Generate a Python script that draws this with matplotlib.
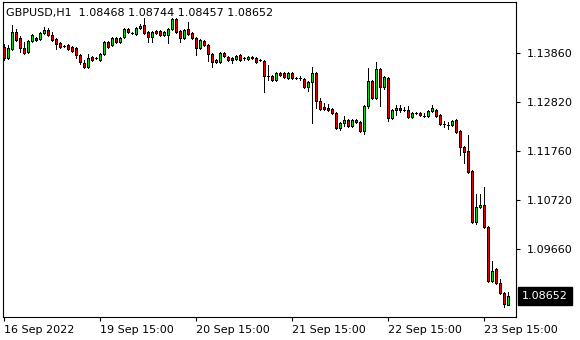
import matplotlib
matplotlib.use("Agg")
import matplotlib.pyplot as plt
from matplotlib.patches import Rectangle
from matplotlib.transforms import offset_copy

# GBPUSD H1, 16 Sep 2022 15:00 .. 23 Sep 2022 21:00
opens = [
    1.13989, 1.13753, 1.13946, 1.14310, 1.14182, 1.13967, 1.13882, 1.14117, 1.14182, 1.14160,
    1.14289, 1.14353, 1.14246, 1.14160, 1.14075, 1.14010, 1.14032, 1.13989, 1.13967, 1.13817,
    1.13646, 1.13560, 1.13775, 1.13753, 1.13710, 1.13839, 1.14096, 1.14032, 1.14182, 1.14096,
    1.14203, 1.14375, 1.14289, 1.14267, 1.14396, 1.14460, 1.14310, 1.14203, 1.14332, 1.14332,
    1.14246, 1.14246, 1.14375, 1.14589, 1.14332, 1.14182, 1.14375, 1.14289, 1.14182, 1.13967,
    1.14117, 1.14032, 1.13839, 1.13667, 1.13667, 1.13860, 1.13775, 1.13753, 1.13732, 1.13817,
    1.13753, 1.13732, 1.13775, 1.13753, 1.13710, 1.13689, 1.13367, 1.13367, 1.13282, 1.13432,
    1.13432, 1.13325, 1.13432, 1.13325, 1.13325, 1.13303, 1.13132, 1.13239, 1.13432, 1.12832,
    1.12703, 1.12682, 1.12660, 1.12574, 1.12253, 1.12360, 1.12424, 1.12296, 1.12424, 1.12382,
    1.12189, 1.12724, 1.13260, 1.12896, 1.13517, 1.13132, 1.13325, 1.12467, 1.12639, 1.12682,
    1.12639, 1.12639, 1.12489, 1.12574, 1.12574, 1.12510, 1.12510, 1.12617, 1.12639, 1.12532,
    1.12339, 1.12317, 1.12317, 1.12424, 1.12189, 1.11846, 1.11760, 1.11332, 1.10239, 1.10560,
    1.10603, 1.10131, 1.08974, 1.09231, 1.08931, 1.08717, 1.08468,
]
highs = [
    1.14053, 1.14032, 1.14460, 1.14375, 1.14225, 1.14096, 1.14139, 1.14267, 1.14203, 1.14310,
    1.14417, 1.14396, 1.14310, 1.14182, 1.14096, 1.14032, 1.14053, 1.14010, 1.13989, 1.13839,
    1.13710, 1.13839, 1.13796, 1.13775, 1.13860, 1.14117, 1.14117, 1.14203, 1.14203, 1.14203,
    1.14396, 1.14396, 1.14310, 1.14417, 1.14482, 1.14610, 1.14332, 1.14332, 1.14353, 1.14353,
    1.14332, 1.14396, 1.14610, 1.14610, 1.14353, 1.14375, 1.14525, 1.14310, 1.14203, 1.14160,
    1.14139, 1.14053, 1.13860, 1.13732, 1.13882, 1.13882, 1.13796, 1.13775, 1.13817, 1.13839,
    1.13775, 1.13796, 1.13796, 1.13775, 1.13732, 1.13710, 1.13603, 1.13389, 1.13453, 1.13453,
    1.13453, 1.13453, 1.13453, 1.13346, 1.13367, 1.13325, 1.13260, 1.13560, 1.13453, 1.12896,
    1.12789, 1.12767, 1.12682, 1.12596, 1.12382, 1.12510, 1.12446, 1.12446, 1.12446, 1.12403,
    1.12746, 1.13539, 1.13282, 1.13667, 1.13539, 1.13367, 1.13346, 1.12660, 1.12746, 1.12746,
    1.12703, 1.12724, 1.12596, 1.12596, 1.12596, 1.12574, 1.12639, 1.12746, 1.12660, 1.12553,
    1.12403, 1.12382, 1.12424, 1.12446, 1.12210, 1.11867, 1.12103, 1.11353, 1.10839, 1.10839,
    1.10989, 1.10153, 1.09403, 1.09253, 1.09017, 1.08738, 1.08744,
]
lows = [
    1.13710, 1.13732, 1.13925, 1.14117, 1.13882, 1.13839, 1.13860, 1.14096, 1.14117, 1.14139,
    1.14267, 1.14225, 1.14117, 1.13946, 1.13967, 1.13989, 1.13925, 1.13882, 1.13753, 1.13625,
    1.13539, 1.13539, 1.13689, 1.13732, 1.13689, 1.13817, 1.13967, 1.14010, 1.14075, 1.14075,
    1.14182, 1.14289, 1.14267, 1.14246, 1.14375, 1.14267, 1.14096, 1.14096, 1.14267, 1.14225,
    1.14225, 1.14075, 1.14353, 1.14289, 1.14096, 1.14160, 1.14246, 1.14160, 1.13817, 1.13946,
    1.14010, 1.13689, 1.13560, 1.13646, 1.13646, 1.13775, 1.13689, 1.13646, 1.13710, 1.13689,
    1.13710, 1.13710, 1.13732, 1.13646, 1.13689, 1.13024, 1.13282, 1.13260, 1.13260, 1.13367,
    1.13325, 1.13303, 1.13303, 1.13303, 1.13282, 1.13110, 1.13046, 1.12360, 1.12682, 1.12639,
    1.12639, 1.12617, 1.12553, 1.12232, 1.12210, 1.12296, 1.12274, 1.12274, 1.12360, 1.12167,
    1.12124, 1.12682, 1.12874, 1.12874, 1.12724, 1.13089, 1.12403, 1.12446, 1.12532, 1.12596,
    1.12617, 1.12467, 1.12467, 1.12553, 1.12510, 1.12489, 1.12489, 1.12596, 1.12489, 1.12317,
    1.12274, 1.12232, 1.12296, 1.12146, 1.11674, 1.11503, 1.11289, 1.10217, 1.10196, 1.10539,
    1.10110, 1.08953, 1.08953, 1.08910, 1.08696, 1.08417, 1.08457,
]
closes = [
    1.13753, 1.13967, 1.14310, 1.14139, 1.13967, 1.13860, 1.14117, 1.14246, 1.14139, 1.14289,
    1.14353, 1.14246, 1.14139, 1.14053, 1.13989, 1.14005, 1.13946, 1.13903, 1.13817, 1.13667,
    1.13560, 1.13753, 1.13710, 1.13748, 1.13839, 1.14096, 1.13989, 1.14182, 1.14096, 1.14182,
    1.14375, 1.14310, 1.14284, 1.14396, 1.14439, 1.14289, 1.14203, 1.14310, 1.14289, 1.14246,
    1.14310, 1.14375, 1.14589, 1.14310, 1.14182, 1.14353, 1.14267, 1.14182, 1.13967, 1.14139,
    1.14032, 1.13839, 1.13667, 1.13710, 1.13860, 1.13796, 1.13710, 1.13710, 1.13796, 1.13710,
    1.13748, 1.13775, 1.13753, 1.13667, 1.13705, 1.13367, 1.13362, 1.13282, 1.13432, 1.13389,
    1.13346, 1.13432, 1.13325, 1.13320, 1.13320, 1.13132, 1.13239, 1.13432, 1.12832, 1.12660,
    1.12660, 1.12639, 1.12574, 1.12253, 1.12360, 1.12424, 1.12296, 1.12424, 1.12382, 1.12189,
    1.12724, 1.13260, 1.12896, 1.13517, 1.13132, 1.13346, 1.12467, 1.12639, 1.12682, 1.12639,
    1.12634, 1.12489, 1.12574, 1.12569, 1.12532, 1.12505, 1.12617, 1.12682, 1.12510, 1.12339,
    1.12334, 1.12312, 1.12403, 1.12167, 1.11846, 1.11739, 1.11310, 1.10239, 1.10560, 1.10603,
    1.10131, 1.08974, 1.09189, 1.08931, 1.08717, 1.08481, 1.08652,
]

price_ticks = [1.13860, 1.12820, 1.11760, 1.10720, 1.09660]
time_tick_bars = [0, 24, 48, 72, 96, 120]
time_tick_labels = ["16 Sep 2022", "19 Sep 15:00", "20 Sep 15:00",
                    "21 Sep 15:00", "22 Sep 15:00", "23 Sep 15:00"]
symbol = "GBPUSD,H1"

W, H = 580, 340
fig = plt.figure(figsize=(W / 100, H / 100), dpi=100)
fig.patch.set_facecolor("white")
ax = fig.add_axes([3 / W, 1 - 317 / H, (516 - 3) / W, (317 - 2) / H])
ax.set_facecolor("white")

bull = "#00e000"
bear = "#e00000"
lw = 0.72  # one pixel
for i in range(len(opens)):
    o, h, l, c = opens[i], highs[i], lows[i], closes[i]
    ax.vlines(i, l, h, color="black", linewidth=lw, antialiased=False, zorder=2)
    if abs(c - o) < 0.00008:
        ax.hlines((o + c) / 2, i - 0.3, i + 0.3, color="black",
                  linewidth=lw, antialiased=False, zorder=3)
    else:
        ax.add_patch(Rectangle((i - 0.25, min(o, c)), 0.5, abs(c - o),
                               facecolor=bull if c > o else bear,
                               edgecolor="black", linewidth=lw,
                               antialiased=False, zorder=3))

ax.set_xlim(-0.25, 128)
ax.set_ylim(1.14996 - 0.0002143 * 317, 1.14996 - 0.0002143 * 2)

for s in ax.spines.values():
    s.set_color("black")
    s.set_linewidth(0.8)

ax.yaxis.tick_right()
ax.set_yticks(price_ticks)
ax.set_yticklabels([f"{p:.5f}" for p in price_ticks])
ax.set_xticks(time_tick_bars)
ax.set_xticklabels(time_tick_labels, ha="left")
ax.tick_params(axis="both", direction="out", length=3, width=0.8,
               labelsize=8, colors="black", pad=3)
ax.tick_params(axis="y", pad=5)

# title line with last bar OHLC
last = len(closes) - 1
ax.text(0.006, 0.965,
        f"{symbol}  {opens[last]:.5f} {highs[last]:.5f} {lows[last]:.5f} {closes[last]:.5f}",
        transform=ax.transAxes, fontsize=8, color="black", va="center", ha="left")

# current price box
tr = offset_copy(ax.get_yaxis_transform(), fig=fig, x=6, y=0, units="dots")
ax.text(1.0, closes[last], f"{closes[last]:.5f}",
        transform=tr, fontsize=8, color="white", va="center", ha="left",
        clip_on=False,
        bbox=dict(boxstyle="square,pad=0.4", facecolor="black", edgecolor="black"))

fig.savefig("out.png", dpi=100, facecolor="white")
